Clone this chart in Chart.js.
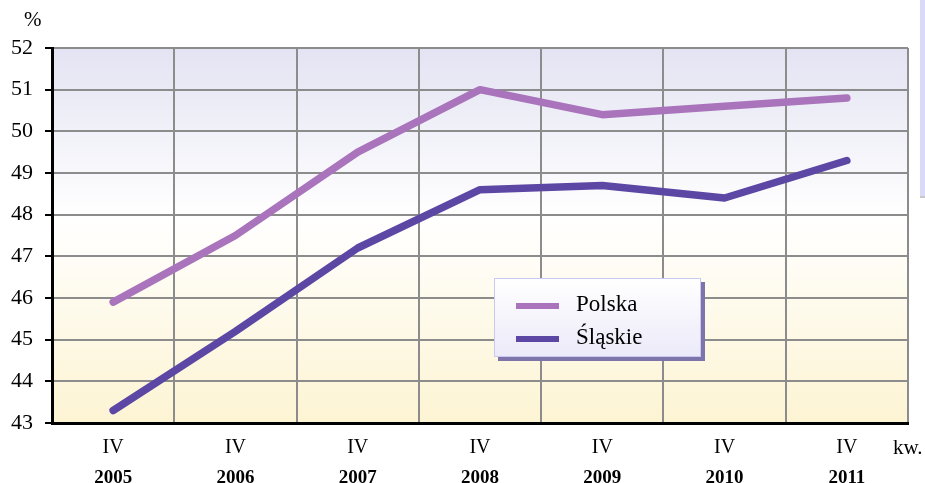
<!DOCTYPE html>
<html>
<head>
<meta charset="utf-8">
<script src="https://cdn.jsdelivr.net/npm/chart.js@4/dist/chart.umd.min.js"></script>
<style>
    body { margin: 0; background: #fff; }
    #wrap { position: relative; width: 925px; height: 483px; font-family: 'Liberation Serif', serif; }
    #unit { position: absolute; left: 24px; top: 7px; font-size: 21px; }
    #kw { position: absolute; left: 893px; top: 435px; font-size: 21px; }
    #sidebar { position: absolute; left: 920px; top: 0; width: 6px; height: 196px; background: #d9d9fa; border-bottom: 2px solid #c8c8c8; }
    #legend {
        position: absolute; left: 494px; top: 278px; width: 205px; height: 77px;
        border: 1px solid #c9c9f2; background: linear-gradient(#ffffff, #eceaf9);
        box-shadow: 4px 4px 0 #7c74aa;
    }
    .item { position: absolute; left: 21px; font-size: 23px; line-height: 26px; }
    .item span { display: inline-block; width: 43px; height: 6px; vertical-align: middle; margin-right: 17px; }
</style>
</head>
<body>
<div id="wrap">
    <canvas id="chart" width="925" height="483"></canvas>
    <div id="unit">%</div>
    <div id="kw">kw.</div>
    <div id="sidebar"></div>
    <div id="legend"></div>
</div>
<script>
// Data
const quarters = ['IV', 'IV', 'IV', 'IV', 'IV', 'IV', 'IV'];
const years = ['2005', '2006', '2007', '2008', '2009', '2010', '2011'];
const polska = [45.9, 47.5, 49.5, 51.0, 50.4, 50.6, 50.8];
const slaskie = [43.3, 45.2, 47.2, 48.6, 48.7, 48.4, 49.3];
const seriesNames = ['Polska', 'Śląskie'];
const seriesColors = ['#a974bb', '#5d47a4'];

// Legend (HTML)
const legendEl = document.getElementById('legend');
seriesNames.forEach((name, i) => {
    const div = document.createElement('div');
    div.className = 'item';
    div.style.top = (i === 0 ? 12 : 45) + 'px';
    div.innerHTML = '<span style="background:' + seriesColors[i] + '"></span>' + name;
    legendEl.appendChild(div);
});

// Gradient background behind plot area
const plotBackground = {
    id: 'plotBackground',
    beforeDraw(chart) {
        const { ctx, chartArea: a } = chart;
        const g = ctx.createLinearGradient(0, a.top, 0, a.bottom);
        g.addColorStop(0, '#e3e3f3');
        g.addColorStop(0.45, '#ffffff');
        g.addColorStop(1, '#fdf4d3');
        ctx.save();
        ctx.fillStyle = g;
        ctx.fillRect(a.left, a.top, a.right - a.left, a.bottom - a.top);
        ctx.restore();
    }
};

new Chart(document.getElementById('chart'), {
    type: 'line',
    data: {
        labels: quarters,
        datasets: seriesNames.map((name, i) => ({
            label: name,
            data: i === 0 ? polska : slaskie,
            borderColor: seriesColors[i],
            borderWidth: 7.5,
            borderCapStyle: 'round',
            borderJoinStyle: 'round',
            pointRadius: 0,
            tension: 0,
            xAxisID: 'x',
            yAxisID: 'y'
        }))
    },
    options: {
        responsive: false,
        animation: false,
        layout: { padding: { top: 48, right: 17, left: 0, bottom: 0 } },
        plugins: { legend: { display: false }, tooltip: { enabled: false } },
        scales: {
            x: {
                type: 'category',
                position: 'bottom',
                offset: true,
                grid: { offset: true, color: '#8c8c8c', lineWidth: 2, drawTicks: false },
                border: { color: '#000', width: 3 },
                ticks: { color: '#000', font: { family: 'Liberation Serif', size: 20 }, padding: 13, maxRotation: 0 },
                afterFit(scale) { scale.height = 36; }
            },
            x2: {
                type: 'category',
                position: 'bottom',
                labels: years,
                offset: true,
                grid: { display: false },
                border: { display: false },
                ticks: { color: '#000', font: { family: 'Liberation Serif', size: 19, weight: 'bold' }, padding: 0, maxRotation: 0 },
                afterFit(scale) { scale.height = 24; }
            },
            y: {
                min: 43,
                max: 52,
                ticks: { stepSize: 1, color: '#000', font: { family: 'Liberation Serif', size: 22 }, padding: 12 },
                grid: { color: '#8c8c8c', lineWidth: 2, tickColor: '#000', tickLength: 7 },
                border: { color: '#000', width: 3 },
                afterFit(scale) { scale.width = 52; }
            }
        }
    },
    plugins: [plotBackground]
});
</script>
</body>
</html>
